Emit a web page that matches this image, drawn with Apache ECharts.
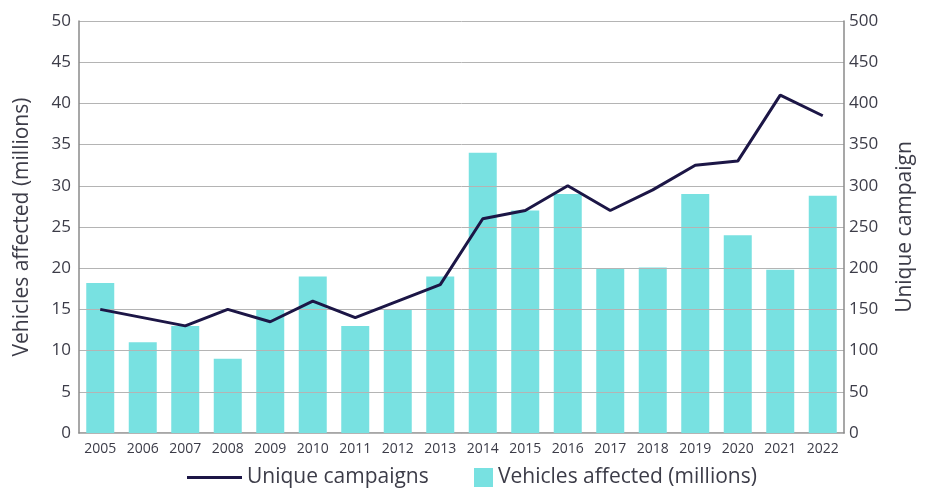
<!DOCTYPE html>
<html>
<head>
<meta charset="utf-8">
<script src="https://cdn.jsdelivr.net/npm/echarts@6/dist/echarts.min.js"></script>
<style>
  html, body { margin: 0; padding: 0; background: #fff; }
  #chart { width: 931px; height: 490px; }
</style>
</head>
<body>
<div id="chart"></div>
<script>
  // data
  var years = ['2005', '2006', '2007', '2008', '2009', '2010', '2011', '2012', '2013',
               '2014', '2015', '2016', '2017', '2018', '2019', '2020', '2021', '2022'];
  var vehicles = [18.2, 11, 13, 9, 15, 19, 13, 15, 19, 34, 27, 29, 20, 20.1, 29, 24, 19.8, 28.8];
  var campaigns = [150, 140, 130, 150, 135, 160, 140, 160, 180, 260, 270, 300, 270, 295, 325, 330, 410, 385];

  var textColor = '#3c3c48';
  var font = 'Open Sans';

  var chart = echarts.init(document.getElementById('chart'));
  chart.setOption({
    animation: false,
    grid: { left: 79, right: 87, top: 21, bottom: 57 },
    legend: [{
      left: 182, top: 462,
      itemWidth: 55, itemHeight: 3,
      itemGap: 0,
      textStyle: { color: textColor, fontSize: 21, fontFamily: font },
      data: [{ name: 'Unique campaigns', icon: 'rect' }]
    }, {
      left: 469, top: 462,
      itemWidth: 19, itemHeight: 19,
      textStyle: { color: textColor, fontSize: 21, fontFamily: font },
      data: [{ name: 'Vehicles affected (millions)', icon: 'rect' }]
    }],
    xAxis: {
      type: 'category',
      data: years,
      axisTick: { show: false },
      axisLine: { lineStyle: { color: '#8a8a8a', width: 1.5 } },
      axisLabel: { color: textColor, fontSize: 14, fontFamily: font, margin: 9 }
    },
    yAxis: [{
      type: 'value',
      min: 0, max: 50, interval: 5,
      name: 'Vehicles affected (millions)',
      nameLocation: 'middle',
      nameRotate: 90,
      nameGap: 46,
      nameTextStyle: { color: textColor, fontSize: 21, fontFamily: font },
      z: 3,
      axisLine: { show: true, lineStyle: { color: '#8a8a8a', width: 1.5 } },
      axisTick: { show: false },
      axisLabel: { color: textColor, fontSize: 17, fontFamily: font, margin: 8 },
      splitLine: { lineStyle: { color: '#b4b4b4', width: 1 } }
    }, {
      type: 'value',
      min: 0, max: 500, interval: 50,
      name: 'Unique campaign',
      nameLocation: 'middle',
      nameRotate: 90,
      nameGap: 51,
      nameTextStyle: { color: textColor, fontSize: 21, fontFamily: font },
      z: 3,
      axisLine: { show: true, lineStyle: { color: '#8a8a8a', width: 1.5 } },
      axisTick: { show: false },
      axisLabel: { color: textColor, fontSize: 17, fontFamily: font, margin: 5 },
      splitLine: { show: false }
    }],
    series: [{
      name: 'Vehicles affected (millions)',
      type: 'bar',
      data: vehicles,
      yAxisIndex: 0,
      barWidth: 28,
      itemStyle: { color: '#78e1e1' },
      z: 2
    }, {
      name: 'Unique campaigns',
      type: 'line',
      data: campaigns,
      yAxisIndex: 1,
      symbol: 'none',
      lineStyle: { color: '#1c1646', width: 3 },
      itemStyle: { color: '#1c1646' },
      z: 5
    }]
  });
</script>
</body>
</html>
